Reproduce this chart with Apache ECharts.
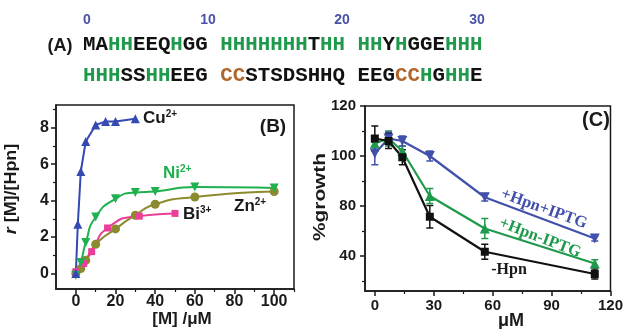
<!DOCTYPE html>
<html>
<head>
<meta charset="utf-8">
<script src="https://cdn.jsdelivr.net/npm/echarts@6/dist/echarts.min.js"></script>
<style>
  html, body { margin: 0; padding: 0; background: #fff; }
  #main { width: 626px; height: 329px; }
</style>
</head>
<body>
<div id="main"></div>
<script>
// (A) sequence, split in colour runs: k = black, g = green (His), c = brown (Cys)
const seqLine1 = [['k', 'MA'], ['g', 'HH'], ['k', 'EEQ'], ['g', 'H'], ['k', 'GG '], ['g', 'HHHHHHH'], ['k', 'T'],
  ['g', 'HH'], ['k', ' '], ['g', 'HH'], ['k', 'Y'], ['g', 'H'], ['k', 'GGE'], ['g', 'HHH']];
const seqLine2 = [['g', 'HHH'], ['k', 'SS'], ['g', 'HH'], ['k', 'EEG '], ['c', 'CC'], ['k', 'STSDSHHQ EEG'],
  ['c', 'CC'], ['g', 'H'], ['k', 'G'], ['g', 'HH'], ['k', 'E']];
const seqNumbers = ['0', '10', '20', '30'];

// (B) binding, x = [M] / uM, y = r
const cuData = [[0, 0], [1, 2.7], [2.5, 5.6], [5, 7.25], [10, 8.15], [15, 8.35], [20, 8.35], [30, 8.5]];
const niData = [[0, -0.1], [2.5, 0.6], [5, 1.7], [10, 3.1], [20, 4.1], [30, 4.45], [40, 4.5], [60, 4.75], [100, 4.7]];
const znData = [[0, 0], [2.5, 0.27], [5, 0.73], [10, 1.6], [20, 2.45], [30, 3.2], [40, 3.8], [60, 4.2], [100, 4.5]];
const biData = [[0, 0.1], [4, 0.55], [8, 1.2], [16, 2.5], [32, 3.15], [50, 3.3]];
const bXTicks = [0, 20, 40, 60, 80, 100];
const bXMinor = [10, 30, 50, 70, 90, 110];
const bYTicks = [0, 2, 4, 6, 8];
const bYMinor = [1, 3, 5, 7, 9];

// (C) growth, x = uM
const doseC = [0, 7, 14, 28, 56, 112];
const growthNoHpn = [107, 106, 99.5, 75.7, 61.7, 52.8];
const errNoHpn = [5, 3, 3, 4.5, 3, 2];
const growthHpnNoIptg = [105, 107, 102, 84, 71, 57];
const errHpnNoIptg = [3, 3, 2, 3, 4, 1.5];
const growthHpnIptg = [101, 107, 106, 100, 83.5, 67];
const errHpnIptg = [4.5, 2.5, 2, 2, 1.5, 1];
const cXTicks = [0, 30, 60, 90, 120];
const cXMinor = [15, 45, 75, 105];
const cYTicks = [60, 80, 100, 120];
const cYLabels = ['40', '80', '100', '120'];
const cYMinor = [50, 70, 90, 110];

const SANS = '"Liberation Sans", Arial, sans-serif';
const SERIF = '"Liberation Serif", "Times New Roman", serif';
const MONO = '"Liberation Mono", "Courier New", monospace';
const GREEN = '#1f9a4c';
const BROWN = '#b0652a';

const chart = echarts.init(document.getElementById('main'));

function richText(runs) {
  return runs.map(r => '{' + r[0] + '|' + r[1] + '}').join('');
}
const seqRich = {
  k: { fill: '#111', fontFamily: MONO, fontWeight: 'bold', fontSize: 20.8 },
  g: { fill: GREEN, fontFamily: MONO, fontWeight: 'bold', fontSize: 20.8 },
  c: { fill: BROWN, fontFamily: MONO, fontWeight: 'bold', fontSize: 20.8 }
};

function mainAxis(grid, min, max, ticks, labelSize, margin, formatter, pos) {
  return {
    type: 'value', gridIndex: grid, min: min, max: max, position: pos,
    axisLine: { show: true, onZero: false, lineStyle: { color: '#1a1a1a', width: 1.5 } },
    axisTick: { show: true, customValues: ticks, length: 5, lineStyle: { color: '#1a1a1a', width: 1.5 } },
    axisLabel: {
      customValues: ticks, margin: margin, color: '#1a1a1a', fontFamily: SANS,
      fontWeight: 'bold', fontSize: labelSize, formatter: formatter
    },
    splitLine: { show: false }
  };
}
function minorAxis(grid, min, max, ticks, pos) {
  return {
    type: 'value', gridIndex: grid, min: min, max: max, position: pos,
    axisLine: { show: false, onZero: false },
    axisTick: { show: true, customValues: ticks, length: 3, lineStyle: { color: '#1a1a1a', width: 1.2 } },
    axisLabel: { show: false },
    splitLine: { show: false }
  };
}

function curve(name, data, color, symbol, rotate, smooth) {
  return {
    name: name, type: 'line', xAxisIndex: 0, yAxisIndex: 0, data: data,
    symbol: symbol, symbolSize: symbol === 'rect' ? 7 : 9, symbolRotate: rotate,
    smooth: smooth,
    lineStyle: { color: color, width: 2 }, itemStyle: { color: color }
  };
}

function growthLine(name, ys, color, symbol, rotate) {
  return {
    name: name, type: 'line', xAxisIndex: 2, yAxisIndex: 2,
    data: doseC.map((x, i) => [x, ys[i]]),
    symbol: symbol, symbolSize: symbol === 'rect' ? 8 : 10, symbolRotate: rotate,
    lineStyle: { color: color, width: 2.2 }, itemStyle: { color: color }, z: 3
  };
}

function errorBars(ys, errs, color) {
  return {
    type: 'custom', xAxisIndex: 2, yAxisIndex: 2, z: 2,
    data: doseC.map((x, i) => [x, ys[i] - errs[i], ys[i] + errs[i]]),
    encode: { x: 0, y: [1, 2] },
    renderItem(params, api) {
      const lo = api.coord([api.value(0), api.value(1)]);
      const hi = api.coord([api.value(0), api.value(2)]);
      const w = 3.5;
      const st = { stroke: color, lineWidth: 1.5 };
      return {
        type: 'group', children: [
          { type: 'line', shape: { x1: lo[0], y1: lo[1], x2: hi[0], y2: hi[1] }, style: st },
          { type: 'line', shape: { x1: lo[0] - w, y1: lo[1], x2: lo[0] + w, y2: lo[1] }, style: st },
          { type: 'line', shape: { x1: hi[0] - w, y1: hi[1], x2: hi[0] + w, y2: hi[1] }, style: st }
        ]
      };
    }
  };
}

function label(x, y, text, opts) {
  return Object.assign({
    type: 'text', x: x, y: y,
    style: Object.assign({
      text: text, fill: '#1a1a1a', fontFamily: SANS, fontWeight: 'bold', fontSize: 16,
      align: 'center', verticalAlign: 'middle'
    }, opts.style || {})
  }, opts.el || {});
}
function ionLabel(x, y, base, charge, color) {
  return label(x, y, '{b|' + base + '}{s|' + charge + '}', {
    style: {
      align: 'left',
      rich: {
        b: { fill: color, fontFamily: SANS, fontWeight: 'bold', fontSize: 17 },
        s: { fill: color, fontFamily: SANS, fontWeight: 'bold', fontSize: 10, verticalAlign: 'top' }
      }
    }
  });
}

const seqX = [87, 208, 342, 477];

chart.setOption({
  animation: false,
  grid: [
    { left: 56, top: 105, width: 238, height: 184, show: true, borderColor: '#1a1a1a', borderWidth: 1.5 },
    { left: 365, top: 106, width: 246, height: 185, show: true, borderColor: '#1a1a1a', borderWidth: 1.5 }
  ],
  xAxis: [
    mainAxis(0, -10, 110, bXTicks, 16, 5, null, 'bottom'),
    minorAxis(0, -10, 110, bXMinor, 'bottom'),
    mainAxis(1, -5, 120, cXTicks, 15, 7, null, 'bottom'),
    minorAxis(1, -5, 120, cXMinor, 'bottom')
  ],
  yAxis: [
    mainAxis(0, -0.85, 9.25, bYTicks, 16, 7, null, 'left'),
    minorAxis(0, -0.85, 9.25, bYMinor, 'left'),
    mainAxis(1, 46, 120, cYTicks, 15, 9, v => cYLabels[cYTicks.indexOf(v)], 'left'),
    minorAxis(1, 46, 120, cYMinor, 'left')
  ],
  series: [
    curve('Zn', znData, '#8c8a2e', 'circle', 0, 0.6),
    curve('Bi', biData, '#ea3f97', 'rect', 0, 0.6),
    curve('Ni', niData, '#1fb04f', 'triangle', 180, 0.6),
    curve('Cu', cuData, '#3449b2', 'triangle', 0, false),
    errorBars(growthHpnNoIptg, errHpnNoIptg, GREEN),
    errorBars(growthHpnIptg, errHpnIptg, '#4150ab'),
    errorBars(growthNoHpn, errNoHpn, '#111'),
    growthLine('+Hpn-IPTG', growthHpnNoIptg, GREEN, 'triangle', 0),
    growthLine('+Hpn+IPTG', growthHpnIptg, '#4150ab', 'triangle', 180),
    growthLine('-Hpn', growthNoHpn, '#111', 'rect', 0)
  ],
  graphic: [
    // panel A
    ...seqNumbers.map((t, i) => label(seqX[i], 20, t, { style: { fill: '#4a52a8', fontSize: 14 } })),
    label(60, 46, '(A)', { style: { fontSize: 18 } }),
    label(83, 45, richText(seqLine1), { style: { align: 'left', rich: seqRich } }),
    label(83, 76, richText(seqLine2), { style: { align: 'left', rich: seqRich } }),
    // panel B
    label(273, 127, '(B)', { style: { fontSize: 19 } }),
    ionLabel(143, 118, 'Cu', '2+', '#1a1a1a'),
    ionLabel(163, 173, 'Ni', '2+', '#1fb04f'),
    ionLabel(183, 214, 'Bi', '3+', '#1a1a1a'),
    ionLabel(234, 206, 'Zn', '2+', '#1a1a1a'),
    label(182, 319, '[M] /\u03bcM', { style: { fontSize: 17 } }),
    label(12, 189, '{i|r} [M]/[Hpn]', {
      el: { rotation: Math.PI / 2, scaleX: 1.12 },
      style: {
        fontSize: 16,
        rich: {
          i: { fill: '#1a1a1a', fontFamily: SANS, fontWeight: 'bold', fontStyle: 'italic', fontSize: 16 }
        }
      }
    }),
    // panel C
    label(596, 120, '(C)', { style: { fontSize: 20 } }),
    label(321, 197, '%growth', { el: { rotation: Math.PI / 2, scaleX: 1.3 }, style: { fontSize: 16 } }),
    label(511, 321, '\u03bcM', { style: { fontSize: 18 } }),
    label(544, 209, '+Hpn+IPTG', {
      el: { rotation: -20 * Math.PI / 180 },
      style: { fill: '#4150ab', fontFamily: SERIF, fontSize: 16.5 }
    }),
    label(540, 238, '+Hpn-IPTG', {
      el: { rotation: -21 * Math.PI / 180 },
      style: { fill: GREEN, fontFamily: SERIF, fontSize: 16.5 }
    }),
    label(509, 270, '-Hpn', { style: { fontFamily: SERIF, fontSize: 16 } })
  ]
});
</script>
</body>
</html>
